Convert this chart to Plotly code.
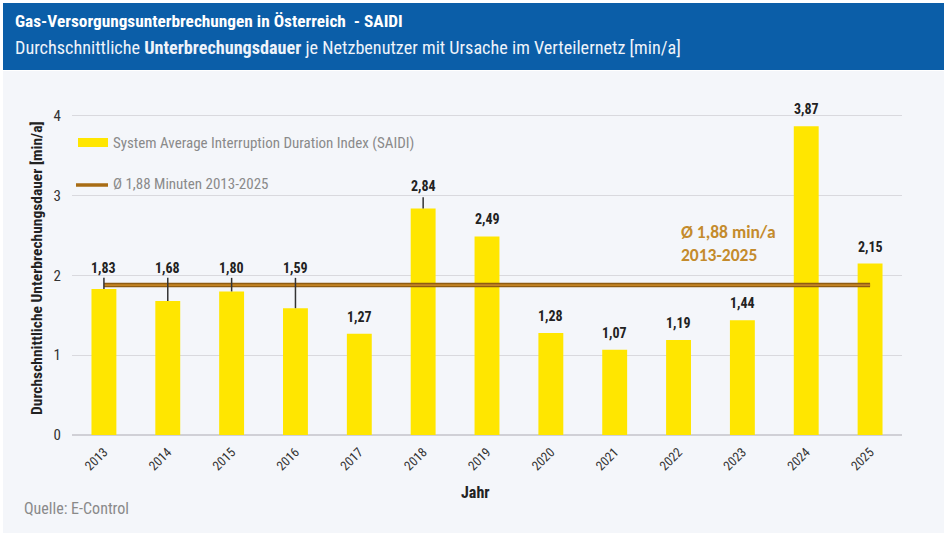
import plotly.graph_objects as go

# ---------------- data ----------------
years = ["2013", "2014", "2015", "2016", "2017", "2018", "2019",
         "2020", "2021", "2022", "2023", "2024", "2025"]
saidi = [1.83, 1.68, 1.80, 1.59, 1.27, 2.84, 2.49, 1.28, 1.07, 1.19, 1.44, 3.87, 2.15]
saidi_labels = ["1,83", "1,68", "1,80", "1,59", "1,27", "2,84", "2,49",
                "1,28", "1,07", "1,19", "1,44", "3,87", "2,15"]
average = 1.88
y_ticks = [0, 1, 2, 3, 4]

title = "Gas-Versorgungsunterbrechungen in Österreich  - SAIDI"
subtitle = ("Durchschnittliche <b>Unterbrechungsdauer</b> je Netzbenutzer "
            "mit Ursache im Verteilernetz [min/a]")
legend_bar = "System Average Interruption Duration Index (SAIDI)"
legend_line = "Ø 1,88 Minuten 2013-2025"
avg_note = "Ø 1,88 min/a<br>2013-2025"
y_title = "Durchschnittliche Unterbrechungsdauer [min/a]"
x_title = "Jahr"
source = "Quelle: E-Control"

# ---------------- layout helpers ----------------
W, H = 952, 537
L, R, T, B = 72, 902, 92, 435        # plot area in pixels
YMAX = 4.3
NARROW = "Roboto Condensed, Arial Narrow, sans-serif"
CALIBRI = "Carlito, Calibri, Lato, sans-serif"

def px(x):
    return (x - L) / (R - L)

def py(y):
    return (B - y) / (B - T)

# lifted label levels (layout, for labels that would collide with the average line)
lifted = {"2013": 2.09, "2014": 2.09, "2015": 2.09, "2016": 2.09, "2018": 3.12}
leader_top = {"2013": 1.97, "2014": 1.97, "2015": 1.97, "2016": 1.97, "2018": 2.98}

fig = go.Figure()

fig.add_trace(go.Bar(
    x=years, y=saidi, marker=dict(color="#FFE600", line=dict(width=0)),
    width=0.39, showlegend=False, hoverinfo="x+y",
))
fig.add_trace(go.Scatter(
    x=years, y=[average] * len(years), mode="lines",
    line=dict(color="#8f5c12", width=4.5), showlegend=False, hoverinfo="skip",
))
fig.add_trace(go.Scatter(
    x=years, y=[average] * len(years), mode="lines",
    line=dict(color="#c48424", width=1.8), showlegend=False, hoverinfo="skip",
))

shapes = []
annotations = []

# background panel + header
shapes.append(dict(type="rect", xref="paper", yref="paper", layer="below",
                   x0=px(3), x1=px(944), y0=py(533), y1=py(71),
                   fillcolor="#f4f6fa", line=dict(width=0)))
shapes.append(dict(type="rect", xref="paper", yref="paper", layer="below",
                   x0=px(3), x1=px(944), y0=py(70), y1=py(3),
                   fillcolor="#0b5ea8", line=dict(width=0)))

# data labels and leader lines (x positions = category index)
for i, (yr, v, lab) in enumerate(zip(years, saidi, saidi_labels)):
    if yr in lifted:
        annotations.append(dict(x=i, y=lifted[yr], xref="x", yref="y", text=f"<b>{lab}</b>",
                                showarrow=False, yanchor="middle",
                                font=dict(family=NARROW, size=14, color="#222222")))
        shapes.append(dict(type="line", xref="x", yref="y", x0=i, x1=i,
                           y0=v, y1=leader_top[yr], line=dict(color="#333333", width=1.5)))
    else:
        annotations.append(dict(x=i, y=v, xref="x", yref="y", text=f"<b>{lab}</b>",
                                showarrow=False, yanchor="bottom", yshift=7,
                                font=dict(family=NARROW, size=14, color="#222222")))

# manual legend
shapes.append(dict(type="rect", xref="paper", yref="paper",
                   x0=px(78), x1=px(108), y0=py(147), y1=py(138),
                   fillcolor="#FFE600", line=dict(width=0)))
shapes.append(dict(type="line", xref="paper", yref="paper",
                   x0=px(76), x1=px(108), y0=py(185), y1=py(185),
                   line=dict(color="#a86c14", width=3.5)))
annotations.append(dict(x=px(111), y=py(143), xref="paper", yref="paper", text=legend_bar,
                        showarrow=False, xanchor="left", yanchor="middle",
                        font=dict(family=NARROW, size=15, color="#8a8a8a")))
annotations.append(dict(x=px(111), y=py(184), xref="paper", yref="paper", text=legend_line,
                        showarrow=False, xanchor="left", yanchor="middle",
                        font=dict(family=NARROW, size=15, color="#8a8a8a")))

# average note
annotations.append(dict(x=px(679), y=py(243), xref="paper", yref="paper", text=f"<b>{avg_note}</b>",
                        showarrow=False, xanchor="left", yanchor="middle", align="left",
                        font=dict(family=CALIBRI, size=17.5, color="#c48b2c")))

# header texts
annotations.append(dict(x=px(13), y=py(21), xref="paper", yref="paper", text=f"<b>{title}</b>",
                        showarrow=False, xanchor="left", yanchor="middle",
                        font=dict(family=NARROW, size=17.3, color="#ffffff")))
annotations.append(dict(x=px(13), y=py(47), xref="paper", yref="paper", text=subtitle,
                        showarrow=False, xanchor="left", yanchor="middle",
                        font=dict(family=NARROW, size=18.2, color="#eef3fa")))

# axis titles and source
annotations.append(dict(x=px(475), y=py(492), xref="paper", yref="paper", text=f"<b>{x_title}</b>",
                        showarrow=False, xanchor="center", yanchor="middle",
                        font=dict(family=NARROW, size=16, color="#222222")))
annotations.append(dict(x=px(37), y=py(268), xref="paper", yref="paper", text=f"<b>{y_title}</b>",
                        showarrow=False, xanchor="center", yanchor="middle", textangle=-90,
                        font=dict(family=NARROW, size=15.5, color="#222222")))
annotations.append(dict(x=px(22), y=py(508), xref="paper", yref="paper", text=source,
                        showarrow=False, xanchor="left", yanchor="middle",
                        font=dict(family=NARROW, size=16, color="#8a8a8a")))

fig.update_layout(
    width=W, height=H,
    margin=dict(l=L, r=W - R, t=T, b=H - B, pad=0),
    paper_bgcolor="#ffffff", plot_bgcolor="rgba(0,0,0,0)",
    separators=",.",
    shapes=shapes, annotations=annotations,
    bargap=0.6, showlegend=False,
    xaxis=dict(type="category", range=[-0.5, len(years) - 0.5], tickangle=-45,
               showgrid=False, zeroline=False,
               tickfont=dict(family=NARROW, size=13, color="#333333"),
               ticks="", showline=False, ticklabelstandoff=6),
    yaxis=dict(range=[0, YMAX], tickvals=y_ticks, showgrid=True, gridcolor="#d9d9de",
               gridwidth=1, zeroline=True, zerolinecolor="#d0d0d6", zerolinewidth=1.5,
               tickfont=dict(family=NARROW, size=15, color="#333333"), ticks="",
               ticklabelstandoff=10),
)

fig.write_html("out.html", config={"displayModeBar": False},
               post_script="document.body.style.margin='0';")
